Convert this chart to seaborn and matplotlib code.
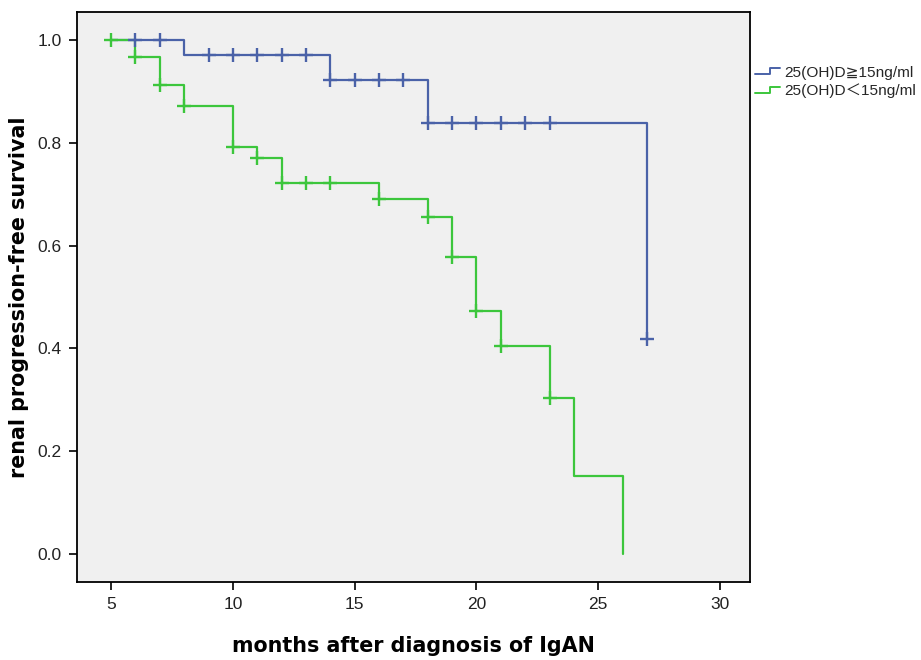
import pandas as pd
import matplotlib
matplotlib.use("Agg")
import matplotlib.pyplot as plt
import seaborn as sns
from matplotlib.legend_handler import HandlerLine2D
from matplotlib.lines import Line2D

sns.set_theme(style="white")
plt.rcParams['font.family'] = ['Liberation Sans', 'DejaVu Sans', 'Noto Sans CJK SC']

# Kaplan-Meier steps
high_times = [5, 8, 14, 18, 27]
high_surv = [1.0, 0.971, 0.922, 0.838, 0.419]
high_censor = [6, 7, 9, 10, 11, 12, 13, 14, 15, 16, 17, 18, 19, 20, 21, 22, 23, 27]

low_times = [5, 6, 7, 8, 10, 11, 12, 16, 18, 19, 20, 21, 23, 24, 26]
low_surv = [1.0, 0.966, 0.912, 0.872, 0.791, 0.770, 0.722, 0.690, 0.656,
            0.578, 0.473, 0.405, 0.304, 0.152, 0.0]
low_censor = [5, 6, 7, 8, 10, 11, 12, 13, 14, 16, 18, 19, 20, 21, 23]

labels = ["25(OH)D\u226715ng/ml", "25(OH)D\uff1c15ng/ml"]
colors = ["#4a62a8", "#3cc63c"]
x_ticks = [5, 10, 15, 20, 25, 30]
y_ticks = [0.0, 0.2, 0.4, 0.6, 0.8, 1.0]


def surv_at(times, surv, t):
    val = surv[0]
    for tt, s in zip(times, surv):
        if tt <= t:
            val = s
    return val


groups = [(high_times, high_surv, high_censor), (low_times, low_surv, low_censor)]


class StepHandler(HandlerLine2D):
    def create_artists(self, legend, orig_handle, xdescent, ydescent,
                       width, height, fontsize, trans):
        x0, x1 = -xdescent, -xdescent + width
        xm = x0 + width * 0.6
        ylo, yhi = -ydescent + height * 0.2, -ydescent + height * 0.8
        line = Line2D([x0, xm, xm, x1], [ylo, ylo, yhi, yhi],
                      color=orig_handle.get_color(), lw=1.4)
        line.set_transform(trans)
        return [line]


fig = plt.figure(figsize=(9.21, 6.6), dpi=100)
ax = fig.add_axes([0.0836, 0.1182, 0.7307, 0.8636])
ax.set_facecolor("#f0f0f0")

handles = []
for (times, surv, cens), lab, col in zip(groups, labels, colors):
    df = pd.DataFrame({"t": times, "s": surv})
    sns.lineplot(data=df, x="t", y="s", ax=ax, color=col, lw=1.6,
                 drawstyle="steps-post", estimator=None, sort=False)
    cdf = pd.DataFrame({"t": cens, "s": [surv_at(times, surv, c) for c in cens]})
    sns.scatterplot(data=cdf, x="t", y="s", ax=ax, marker="+", s=90,
                    color=col, linewidth=1.7, zorder=3)
    handles.append(Line2D([], [], color=col, lw=1.4, label=lab))

ax.set_xlim(3.6, 31.23)
ax.set_ylim(-0.054, 1.054)
ax.set_xticks(x_ticks)
ax.set_yticks(y_ticks)
ax.set_yticklabels([f"{v:.1f}" for v in y_ticks])
ax.tick_params(axis="both", direction="out", length=6, width=1.2,
               color="black", labelsize=12.5, labelcolor="#222222", pad=5,
               bottom=True, left=True)
for sp in ax.spines.values():
    sp.set_color("black")
    sp.set_linewidth(1.3)

ax.set_xlabel("months after diagnosis of IgAN", fontsize=14.9, fontweight="bold",
              family="DejaVu Sans", color="black", labelpad=17)
ax.set_ylabel("renal progression-free survival", fontsize=14.9, fontweight="bold",
              family="DejaVu Sans", color="black", labelpad=6)

fig.legend(handles=handles, loc="upper left", bbox_to_anchor=(0.813, 0.91),
           frameon=False, fontsize=11.1, handlelength=1.6, handletextpad=0.3,
           labelspacing=0.25, borderaxespad=0,
           handler_map={Line2D: StepHandler()})

fig.savefig("out.png", dpi=100, facecolor="white")
